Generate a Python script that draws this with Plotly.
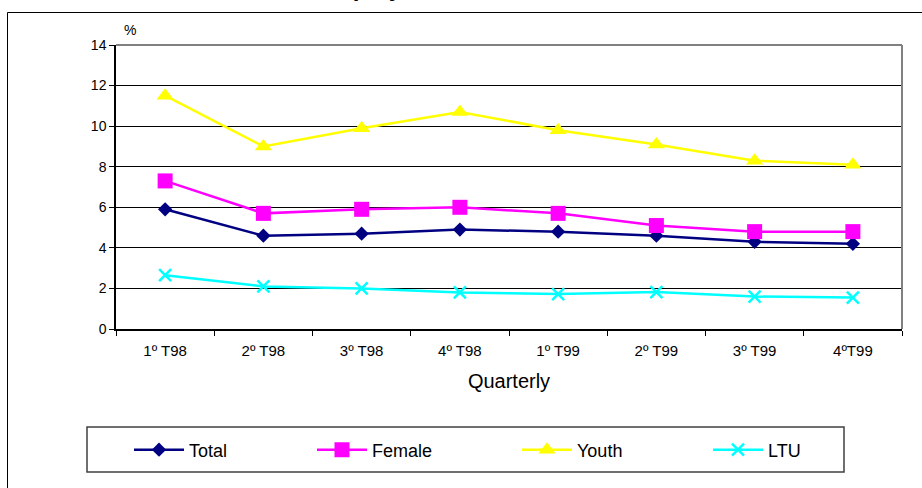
import plotly.graph_objects as go

# Quarterly rates, in percent
quarters = ["1º T98", "2º T98", "3º T98", "4º T98", "1º T99", "2º T99", "3º T99", "4ºT99"]
total = [5.9, 4.6, 4.7, 4.9, 4.8, 4.6, 4.3, 4.2]
female = [7.3, 5.7, 5.9, 6.0, 5.7, 5.1, 4.8, 4.8]
youth = [11.5, 9.0, 9.9, 10.7, 9.8, 9.1, 8.3, 8.1]
ltu = [2.65, 2.1, 2.0, 1.8, 1.72, 1.82, 1.6, 1.55]

series_names = ["Total", "Female", "Youth", "LTU"]
series_values = [total, female, youth, ltu]
colors = ["#000080", "#FF00FF", "#FFFF00", "#00FFFF"]
symbols = ["diamond", "square", "triangle-up", "x-thin"]
sizes = [11, 15, 15, 12]

W, H = 922, 488
L, R, T, B = 116, 20, 45, 159
PW, PH = W - L - R, H - T - B


def px_x(px):
    return (px - L) / PW


def px_y(py):
    return (H - B - py) / PH


FONT = "Arial, Liberation Sans, sans-serif"

fig = go.Figure()
legend_ids = ["legend", "legend2", "legend3", "legend4"]
for name, vals, col, sym, sz, lg in zip(series_names, series_values, colors, symbols, sizes, legend_ids):
    marker = dict(symbol=sym, size=sz, color=col)
    if sym == "x-thin":
        marker["line"] = dict(color=col, width=2.5)
    fig.add_trace(go.Scatter(
        x=quarters, y=vals, name=name, mode="lines+markers",
        line=dict(color=col, width=2.5), marker=marker, legend=lg,
    ))

# legend entries placed side by side inside one framed box
legend_x = [129, 312, 517, 708]
legend_y = px_y(450)
legend_layout = {}
for lg, lx in zip(legend_ids, legend_x):
    legend_layout[lg] = dict(
        x=px_x(lx), y=legend_y, xanchor="left", yanchor="middle",
        xref="paper", yref="paper", bgcolor="rgba(0,0,0,0)", borderwidth=0,
        font=dict(family=FONT, size=18, color="black"), itemwidth=50,
    )

fig.update_layout(
    width=W, height=H,
    margin=dict(l=L, r=R, t=T, b=B, pad=0),
    paper_bgcolor="white", plot_bgcolor="white",
    showlegend=True,
    **legend_layout,
    xaxis=dict(
        type="category", tickson="boundaries", ticks="outside", ticklen=5,
        tickcolor="black", showline=True, linecolor="black", linewidth=1.5,
        showgrid=False, tickfont=dict(family=FONT, size=15, color="black"),
        ticklabelstandoff=7,
        title=dict(text="Quarterly", font=dict(family=FONT, size=20, color="black"), standoff=16),
        range=[-0.5, 7.5], fixedrange=True,
    ),
    yaxis=dict(
        range=[0, 14], dtick=2, ticks="outside", ticklen=5, tickcolor="black",
        showline=True, linecolor="black", linewidth=1.5,
        showgrid=True, gridcolor="black", gridwidth=1,
        tickfont=dict(family=FONT, size=14, color="black"),
        zeroline=False, fixedrange=True,
    ),
    shapes=[
        # plot-area border on top and right
        dict(type="line", xref="paper", yref="paper", x0=0, x1=1, y0=1, y1=1,
             line=dict(color="#808080", width=2)),
        dict(type="line", xref="paper", yref="paper", x0=1, x1=1, y0=0, y1=1,
             line=dict(color="#808080", width=2)),
        # chart frame
        dict(type="rect", xref="paper", yref="paper",
             x0=px_x(7.5), x1=px_x(930), y0=px_y(495), y1=px_y(12.5),
             line=dict(color="black", width=1), layer="below"),
        # legend frame
        dict(type="rect", xref="paper", yref="paper",
             x0=px_x(87), x1=px_x(844), y0=px_y(472), y1=px_y(427),
             line=dict(color="#404040", width=1.5), layer="below"),
    ],
    annotations=[
        dict(text="%", xref="paper", yref="paper", x=px_x(122), y=px_y(30),
             xanchor="left", yanchor="middle", showarrow=False,
             font=dict(family=FONT, size=14, color="black")),
        dict(text="<b>Unemployment rates</b>", xref="paper", yref="paper",
             x=px_x(284), y=px_y(3), xanchor="left", yanchor="bottom", showarrow=False,
             font=dict(family=FONT, size=24, color="black")),
    ],
)

fig.write_html("out.html")
